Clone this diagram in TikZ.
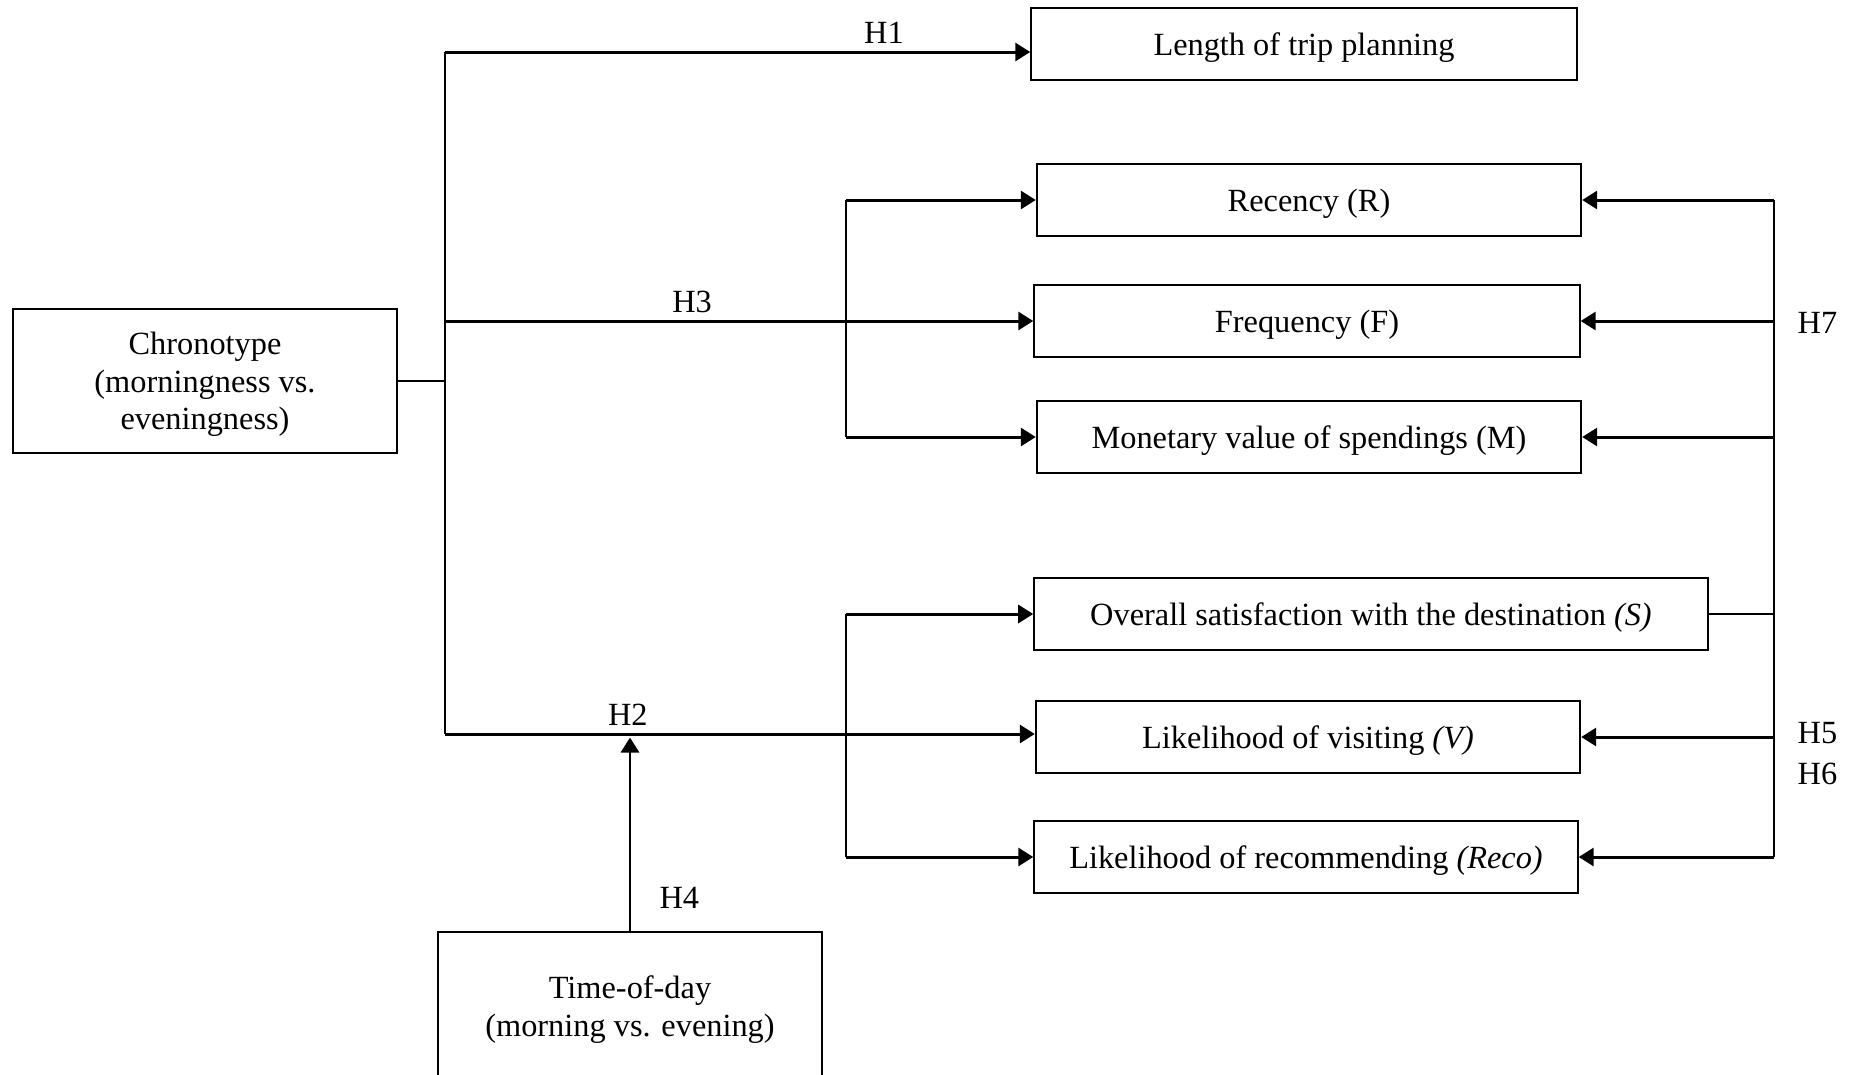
\documentclass[tikz,border=0pt]{standalone}
\usepackage{fontspec}
\setmainfont{Liberation Serif}
\usetikzlibrary{arrows.meta,positioning}

\begin{document}
\begin{tikzpicture}[x=0.01cm,y=-0.01cm,>={Triangle[length=0.15cm,width=0.18cm]},
  font=\fontsize{9.2}{10.6}\selectfont,
  var/.style={draw,line width=0.6pt,minimum height=0.72cm,inner sep=0pt,text depth=0pt,align=center},
  link/.style={line width=0.6pt},
  arr/.style={->,line width=0.85pt},
  hyp/.style={inner sep=2pt}]
  \useasboundingbox (0,0) rectangle (1853,1075);

  \node[var,minimum width=3.83cm,minimum height=1.44cm] (chrono) at (205,381) {Chronotype\\(morningness vs.\\eveningness)};
  \node[var,minimum width=3.84cm,minimum height=1.48cm] (tod) at (630,1006) {Time-of-day\\(morning vs. evening)};

  \node[var,minimum width=5.45cm] (length) at (1304,44) {Length of trip planning};
  \node[var,minimum width=5.44cm] (rec) at (1309,200) {Recency (R)};
  \node[var,minimum width=5.45cm] (freq) at (1307,321) {Frequency (F)};
  \node[var,minimum width=5.44cm] (mon) at (1309,437) {Monetary value of spendings (M)};
  \node[var,minimum width=6.73cm] (sat) at (1371,614) {Overall satisfaction with the destination \textit{(S)}};
  \node[var,minimum width=5.44cm] (vis) at (1308,737) {Likelihood of visiting \textit{(V)}};
  \node[var,minimum width=5.43cm] (reco) at (1306,857) {Likelihood of recommending \textit{(Reco)}};

  \coordinate (top) at (445,52);
  \coordinate (bot) at (445,734);
  \coordinate (fork) at (846,0);
  \coordinate (rv) at (1774,0);

  % chronotype trunk
  \draw[link] (chrono.east) -- (chrono.east -| top);
  \draw[link] (top) -- (bot);
  \draw[arr] (top) -- node[hyp,above,pos=0.75] {H1} (top -| length.west);
  \draw[arr] (top |- freq.west) -- node[hyp,above,pos=0.42] {H3} (freq.west);
  \draw[arr] (bot) -- node[hyp,above,pos=0.31] {H2} (bot -| vis.west);

  \draw[link] (fork |- rec.west) -- (fork |- mon.west);
  \draw[link] (fork |- sat.west) -- (fork |- reco.west);
  \path[arr] (fork |- rec.west) edge (rec.west)
             (fork |- mon.west) edge (mon.west)
             (fork |- sat.west) edge (sat.west)
             (fork |- reco.west) edge (reco.west);

  % moderator
  \draw[arr,shorten >=1pt] (tod.north) -- node[hyp,right=6pt,pos=0.17] {H4} (tod.north |- bot);

  % satisfaction outcomes
  \draw[link] (rv |- rec.east) -- (rv |- reco.east);
  \draw[link] (sat.east) -- (sat.east -| rv);
  \path[arr] (rv |- rec.east) edge (rec.east)
             (rv |- freq.east) edge (freq.east)
             (rv |- mon.east) edge (mon.east)
             (rv |- vis.east) edge (vis.east)
             (rv |- reco.east) edge (reco.east);

  \node[hyp,anchor=west] (h7) at (1790,323) {H7};
  \node[hyp,anchor=west] (h5) at (1790,733) {H5};
  \node[hyp,below=1pt of h5] (h6) {H6};
\end{tikzpicture}
\end{document}
